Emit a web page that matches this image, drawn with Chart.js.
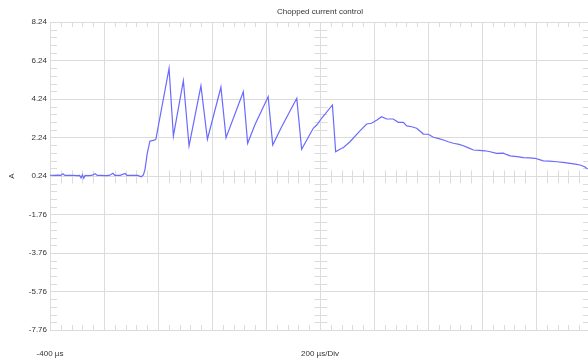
<!DOCTYPE html>
<html>
<head>
<meta charset="utf-8">
<title>Chopped current control</title>
<script src="https://cdn.jsdelivr.net/npm/chart.js@4/dist/chart.umd.min.js"></script>
<style>
  html, body { margin: 0; padding: 0; overflow: hidden; background: #fff; }
  #wrap { width: 590px; height: 361px; }
</style>
</head>
<body>
<div id="wrap"><canvas id="scope"></canvas></div>
<script>
// scope trace: time in µs, current in A
const timeUs = [
  -400, -385, -370, -360, -352, -345, -330, -315, -300, -290, -285, -280, -275, -270, -262,
  -245, -233, -225, -210, -195, -180, -167, -160, -140, -122, -115, -95, -75, -62, -54,
  -48, -40, -30, -22, -14, -8,
  41, 57, 94, 115, 159, 183, 233, 252, 316, 332, 359, 408, 425, 458, 514, 532,
  551, 575, 588, 606, 646, 658, 680, 686, 711, 748, 773, 791, 811, 828, 847, 871,
  890, 909, 921, 940, 958, 983, 1001, 1020, 1040, 1057, 1075, 1094, 1115, 1131, 1150,
  1168, 1190, 1211, 1230, 1254, 1279, 1290, 1304, 1330, 1353, 1375, 1396, 1410, 1427,
  1450, 1477, 1500, 1526, 1545, 1563, 1580, 1591
];
const currentA = [
  0.28, 0.27, 0.29, 0.27, 0.36, 0.27, 0.27, 0.28, 0.26, 0.27, 0.14, 0.30, 0.12, 0.27, 0.26,
  0.27, 0.36, 0.27, 0.27, 0.26, 0.27, 0.38, 0.27, 0.27, 0.37, 0.27, 0.27, 0.27, 0.20, 0.30,
  0.60, 1.40, 2.05, 2.08, 2.10, 2.14,
  5.83, 2.32, 5.19, 1.80, 4.92, 2.15, 4.85, 2.23, 4.62, 1.94, 2.90, 4.36, 1.85, 2.80, 4.28, 1.63,
  2.11, 2.72, 2.89, 3.24, 3.93, 1.50, 1.68, 1.71, 2.02, 2.58, 2.94, 2.98, 3.15, 3.32, 3.20, 3.20,
  3.03, 3.03, 2.84, 2.80, 2.72, 2.42, 2.41, 2.25, 2.18, 2.11, 2.02, 1.94, 1.88, 1.81, 1.70,
  1.59, 1.57, 1.55, 1.50, 1.42, 1.43, 1.36, 1.29, 1.25, 1.19, 1.18, 1.16, 1.10, 1.03,
  1.01, 0.98, 0.95, 0.90, 0.86, 0.81, 0.72, 0.60
];

const xTicks = [-400, -200, 0, 200, 400, 600, 800, 1000, 1200, 1400, 1600];
const yTicks = [-7.76, -5.76, -3.76, -1.76, 0.24, 2.24, 4.24, 6.24, 8.24];
const xLabels = { '-400': '-400 µs', '600': '200 µs/Div' };

const gridColor = '#dcdcdc';
const textColor = '#333';
const font = { family: '"Liberation Sans", Arial, sans-serif', size: 8 };

// small division marks like on a scope screen (5 per division)
const minorTicks = {
  id: 'minorTicks',
  beforeDatasetsDraw(chart) {
    const ctx = chart.ctx;
    const xs = chart.scales.x;
    const ys = chart.scales.y;
    const a = chart.chartArea;
    const cx = Math.round(xs.getPixelForValue(600)) + 0.5;
    const cy = Math.round(ys.getPixelForValue(0.24)) + 0.5;
    ctx.save();
    ctx.strokeStyle = gridColor;
    ctx.lineWidth = 1;
    ctx.beginPath();
    for (let i = 0; i < xTicks.length - 1; i++) {
      for (let k = 1; k < 5; k++) {
        const t = xTicks[i] + (xTicks[i + 1] - xTicks[i]) * k / 5;
        const px = Math.round(xs.getPixelForValue(t)) + 0.5;
        ctx.moveTo(px, a.top); ctx.lineTo(px, a.top + 5);
        ctx.moveTo(px, a.bottom); ctx.lineTo(px, a.bottom - 5);
        ctx.moveTo(px, cy - 6); ctx.lineTo(px, cy + 7);
      }
    }
    for (let i = 0; i < yTicks.length - 1; i++) {
      for (let k = 1; k < 5; k++) {
        const v = yTicks[i] + (yTicks[i + 1] - yTicks[i]) * k / 5;
        const py = Math.round(ys.getPixelForValue(v)) + 0.5;
        ctx.moveTo(a.left, py); ctx.lineTo(a.left + 7, py);
        ctx.moveTo(a.right, py); ctx.lineTo(a.right - 7, py);
        ctx.moveTo(cx - 6, py); ctx.lineTo(cx + 7, py);
      }
    }
    ctx.stroke();
    ctx.restore();
  }
};

const points = timeUs.map((t, i) => ({ x: t, y: currentA[i] }));

new Chart(document.getElementById('scope'), {
  type: 'line',
  data: {
    datasets: [{
      data: points,
      borderColor: '#6a6aff',
      borderWidth: 1.2,
      pointRadius: 0,
      tension: 0,
      fill: false
    }]
  },
  options: {
    responsive: true,
    maintainAspectRatio: false,
    animation: false,
    layout: { padding: 0 },
    plugins: {
      legend: { display: false },
      tooltip: { enabled: false },
      title: {
        display: true,
        text: 'Chopped current control',
        fullSize: false,
        color: textColor,
        font: { ...font, weight: 'normal', lineHeight: 1.25 },
        padding: { top: 7, bottom: 5 }
      }
    },
    scales: {
      x: {
        type: 'linear',
        min: -400,
        max: 1600,
        afterBuildTicks: axis => { axis.ticks = xTicks.map(v => ({ value: v })); },
        afterFit: axis => {
          axis.height = 31;
          // the big label padding should not squeeze the plot sideways
          axis.paddingLeft = 0;
          axis.paddingRight = 0;
        },
        grid: { color: gridColor, drawTicks: false },
        border: { color: gridColor },
        ticks: {
          autoSkip: false,
          maxRotation: 0,
          minRotation: 0,
          padding: 19,
          color: textColor,
          font: font,
          callback: v => xLabels[v] || ''
        }
      },
      y: {
        type: 'linear',
        min: -7.76,
        max: 8.24,
        afterBuildTicks: axis => { axis.ticks = yTicks.map(v => ({ value: v })); },
        afterFit: axis => { axis.width = 50; },
        grid: { color: gridColor, drawTicks: false },
        border: { color: gridColor },
        title: {
          display: true,
          text: 'A',
          color: textColor,
          font: font,
          padding: { top: 7, bottom: 0 }
        },
        ticks: {
          padding: 3,
          color: textColor,
          font: font,
          callback: v => Number(v).toFixed(2)
        }
      }
    }
  },
  plugins: [minorTicks]
});
</script>
</body>
</html>
